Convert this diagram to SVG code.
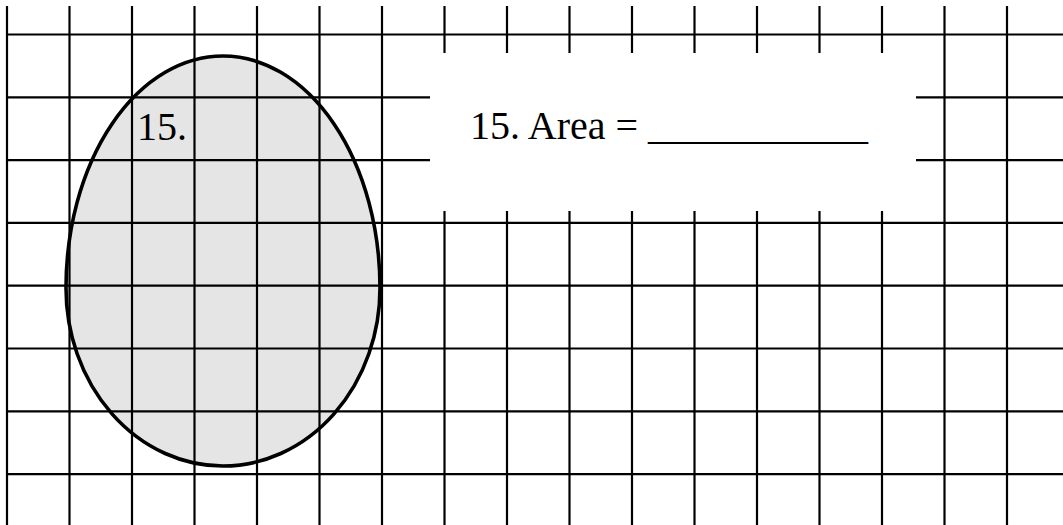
<svg xmlns="http://www.w3.org/2000/svg" width="1063" height="525" viewBox="0 0 1063 525">
<style>
.g line{stroke:#000;stroke-width:2.2}
.t{font-family:"Liberation Serif","Times New Roman",serif;font-size:40px;fill:#000}
</style>
<rect width="1063" height="525" fill="#fff"/>
<g id="egg-fill">
<path d="M66,288 A157,232 0 0 1 380,288 A157,178 0 0 1 66,288 Z" fill="#e5e5e5"/>
</g>
<g id="grid" class="g">
<line x1="7" y1="6" x2="7" y2="525"/>
<line x1="69.5" y1="6" x2="69.5" y2="525"/>
<line x1="132" y1="6" x2="132" y2="525"/>
<line x1="194.5" y1="6" x2="194.5" y2="525"/>
<line x1="257" y1="6" x2="257" y2="525"/>
<line x1="319.5" y1="6" x2="319.5" y2="525"/>
<line x1="382" y1="6" x2="382" y2="525"/>
<line x1="444.5" y1="6" x2="444.5" y2="525"/>
<line x1="507" y1="6" x2="507" y2="525"/>
<line x1="569.5" y1="6" x2="569.5" y2="525"/>
<line x1="632" y1="6" x2="632" y2="525"/>
<line x1="694.5" y1="6" x2="694.5" y2="525"/>
<line x1="757" y1="6" x2="757" y2="525"/>
<line x1="819.5" y1="6" x2="819.5" y2="525"/>
<line x1="882" y1="6" x2="882" y2="525"/>
<line x1="944.5" y1="6" x2="944.5" y2="525"/>
<line x1="1007" y1="6" x2="1007" y2="525"/>
<line x1="6" y1="34.5" x2="1063" y2="34.5"/>
<line x1="6" y1="97.3" x2="1063" y2="97.3"/>
<line x1="6" y1="160.1" x2="1063" y2="160.1"/>
<line x1="6" y1="222.9" x2="1063" y2="222.9"/>
<line x1="6" y1="285.7" x2="1063" y2="285.7"/>
<line x1="6" y1="348.5" x2="1063" y2="348.5"/>
<line x1="6" y1="411.3" x2="1063" y2="411.3"/>
<line x1="6" y1="474.1" x2="1063" y2="474.1"/>
</g>
<g id="egg">
<path d="M66,288 A157,232 0 0 1 380,288 A157,178 0 0 1 66,288 Z" fill="none" stroke="#000" stroke-width="3.6"/>
<text class="t" x="137" y="140">15.</text>
</g>
<g id="answer">
<rect x="430" y="53" width="486" height="158" fill="#fff"/>
<text class="t" x="470" y="138.5">15. Area = ___________</text>
</g>
</svg>
